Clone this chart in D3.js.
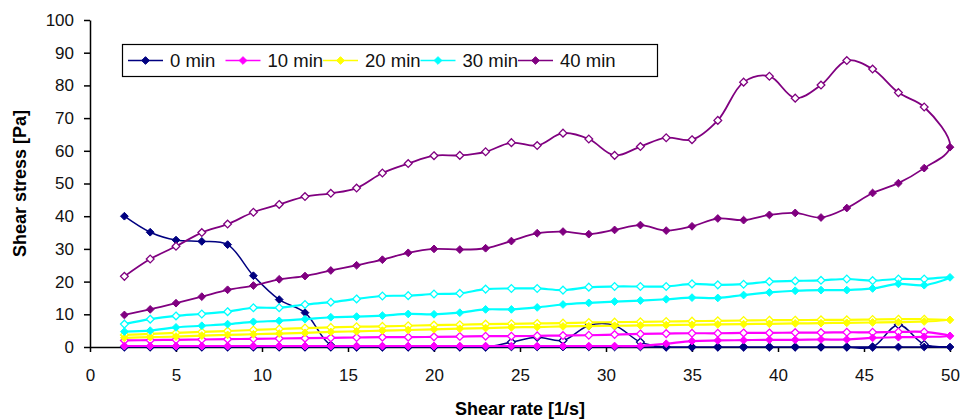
<!DOCTYPE html>
<html>
<head>
<meta charset="utf-8">
<script src="https://cdn.jsdelivr.net/npm/d3@7"></script>
<style>
  body { margin: 0; background: white; }
  text { font-family: "Liberation Sans", Arial, sans-serif; }
</style>
</head>
<body>
<div id="chart"></div>
<script>
// Data: shear rate steps and stress for each rest time (up = filled, down = open)
const shearRate = [2, 3.5, 5, 6.5, 8, 9.5, 11, 12.5, 14, 15.5, 17, 18.5, 20, 21.5, 23, 24.5,
    26, 27.5, 29, 30.5, 32, 33.5, 35, 36.5, 38, 39.5, 41, 42.5, 44, 45.5, 47, 48.5, 50];

const times = ['0 min', '10 min', '20 min', '30 min', '40 min'];
const colors = ['#000080', '#ff00ff', '#ffff00', '#00ffff', '#800080'];

const up0 = [40, 35.1, 32.7, 32.3, 31.3, 21.8, 14.5, 10.5, 0.6, 0, 0, 0, 0, 0, 0, 0,
    0, 0, 0, 0, 0, 0, 0, 0, 0, 0, 0, 0, 0, 0, 0, 0, 0];
const down0 = [0, 0, 0, 0, 0, 0, 0, 0, 0, 0, 0, 0, 0, 0, 0, 1.5,
    3.0, 2.0, 6.6, 6.6, 1.5, 0, 0, 0, 0, 0, 0, 0, 0, 0, 6.8, 0.8, 0];

const up10 = [0.3, 0.3, 0.3, 0.3, 0.3, 0.3, 0.3, 0.3, 0.3, 0.3, 0.3, 0.3, 0.3, 0.3, 0.3, 0.3,
    0.3, 0.3, 0.3, 0.3, 0.3, 1.0, 1.8, 2.0, 2.1, 2.2, 2.2, 2.3, 2.3, 2.8, 3.0, 3.1, 3.4];
const down10 = [2.0, 2.1, 2.2, 2.3, 2.4, 2.5, 2.6, 2.7, 2.8, 2.9, 3.0, 3.0, 3.1, 3.2, 3.3, 3.3,
    3.4, 3.5, 3.6, 3.8, 4.0, 4.1, 4.2, 4.2, 4.3, 4.3, 4.4, 4.4, 4.5, 4.5, 4.6, 4.6, 3.4];

const up20 = [2.8, 3.0, 3.2, 3.5, 3.7, 3.9, 4.1, 4.3, 4.6, 4.8, 5.0, 5.2, 5.4, 5.6, 5.8, 6.0,
    6.1, 6.3, 6.4, 6.5, 6.6, 6.7, 6.8, 6.9, 7.0, 7.1, 7.2, 7.3, 7.4, 7.5, 7.6, 7.8, 8.3];
const down20 = [3.7, 4.0, 4.3, 4.6, 4.9, 5.2, 5.5, 5.8, 6.0, 6.2, 6.3, 6.5, 6.7, 6.8, 7.0, 7.1,
    7.2, 7.3, 7.5, 7.6, 7.7, 7.8, 7.9, 8.0, 8.1, 8.2, 8.2, 8.3, 8.3, 8.4, 8.5, 8.5, 8.3];

const up30 = [4.7, 5.0, 6.0, 6.5, 7.0, 7.7, 8.0, 8.5, 9.1, 9.3, 9.6, 10.1, 10.0, 10.5, 11.5, 11.5,
    12.1, 13.0, 13.5, 13.9, 14.2, 14.6, 15.1, 15.0, 15.9, 16.7, 17.2, 17.4, 17.4, 17.9, 19.3, 18.9, 21.3];
const down30 = [7.0, 8.5, 9.5, 10.1, 10.8, 12.0, 12.0, 13.0, 13.7, 14.7, 15.6, 15.7, 16.2, 16.4, 17.7, 17.9,
    17.9, 17.4, 18.3, 18.5, 18.5, 18.5, 19.3, 19.0, 19.2, 20.0, 20.2, 20.4, 20.8, 20.3, 20.8, 20.8, 21.3];

const up40 = [9.8, 11.5, 13.4, 15.4, 17.5, 18.8, 20.7, 21.7, 23.4, 25.0, 26.7, 28.8, 30.0, 29.8, 30.2, 32.4,
    34.8, 35.3, 34.5, 35.8, 37.3, 35.6, 36.9, 39.3, 38.8, 40.4, 41.0, 39.6, 42.5, 47.1, 50.1, 54.7, 61.1];
const down40 = [21.6, 26.9, 30.8, 35.0, 37.6, 41.2, 43.6, 46.0, 47.0, 48.6, 53.2, 56.1, 58.5, 58.6, 59.7, 62.5,
    61.6, 65.4, 63.6, 58.6, 61.3, 64.0, 63.4, 69.3, 81.0, 82.8, 76.1, 80.1, 87.6, 85.0, 77.8, 73.4, 61.1];

const upCurves = [up0, up10, up20, up30, up40];
const downCurves = [down0, down10, down20, down30, down40];
const lineWidths = [1.5, 2.2, 2.2, 2.2, 1.8];

// Dimensions
const width = 962, height = 419;
const margin = { top: 20, right: 12, bottom: 72, left: 90 };

const svg = d3.select('#chart')
    .append('svg')
    .attr('width', width)
    .attr('height', height)
    .style('background', 'white');

// Scales
const xScale = d3.scaleLinear()
    .domain([0, 50])
    .range([margin.left, width - margin.right]);

const yScale = d3.scaleLinear()
    .domain([0, 100])
    .range([height - margin.bottom, margin.top]);

// Axes
const xaxis = svg.append('g')
    .attr('transform', `translate(0,${height - margin.bottom})`)
    .call(d3.axisBottom(xScale).tickValues(d3.range(0, 51, 5)).tickSize(5).tickPadding(17).tickSizeOuter(0));

const yaxis = svg.append('g')
    .attr('transform', `translate(${margin.left},0)`)
    .call(d3.axisLeft(yScale).tickValues(d3.range(0, 101, 10)).tickSize(6).tickPadding(10).tickSizeOuter(0));

[xaxis, yaxis].forEach(ax => {
    ax.select('.domain').attr('stroke', 'black').attr('stroke-width', 1.5);
    ax.selectAll('.tick line').attr('stroke', 'black').attr('stroke-width', 1.5);
    ax.selectAll('.tick text')
      .style('font-family', '"Liberation Sans", Arial, sans-serif')
      .style('font-size', '17px')
      .attr('fill', '#111');
});

// Axis titles
svg.append('text')
    .text('Shear rate [1/s]')
    .attr('x', xScale(25))
    .attr('y', 415)
    .attr('text-anchor', 'middle')
    .style('font-size', '18px')
    .style('font-weight', 'bold');

svg.append('text')
    .text('Shear stress [Pa]')
    .attr('transform', 'rotate(-90)')
    .attr('x', -yScale(50))
    .attr('y', 26)
    .attr('text-anchor', 'middle')
    .style('font-size', '18px')
    .style('font-weight', 'bold');

// Diamond marker (square turned 45 degrees)
const diamond = {
    draw(context, size) {
        const r = Math.sqrt(size / 2);
        context.moveTo(0, -r);
        context.lineTo(r, 0);
        context.lineTo(0, r);
        context.lineTo(-r, 0);
        context.closePath();
    }
};
const symbol = d3.symbol().type(diamond).size(30);

const line = d3.line()
    .x(d => xScale(d.x))
    .y(d => yScale(d.y))
    .curve(d3.curveCatmullRom.alpha(0.5));

// Draw each series: up the shear rate, then back down
times.forEach((t, i) => {
    const up = shearRate.map((x, j) => ({ x: x, y: upCurves[i][j] }));
    const down = shearRate.map((x, j) => ({ x: x, y: downCurves[i][j] })).slice(0, -1).reverse();

    svg.append('path')
        .datum(up.concat(down))
        .attr('d', line)
        .attr('fill', 'none')
        .attr('stroke', colors[i])
        .attr('stroke-width', lineWidths[i]);

    svg.selectAll(null)
        .data(down)
        .join('path')
        .attr('d', symbol)
        .attr('transform', d => `translate(${xScale(d.x)},${yScale(d.y)})`)
        .attr('fill', 'white')
        .attr('stroke', colors[i])
        .attr('stroke-width', 1.3);

    svg.selectAll(null)
        .data(up)
        .join('path')
        .attr('d', symbol)
        .attr('transform', d => `translate(${xScale(d.x)},${yScale(d.y)})`)
        .attr('fill', colors[i])
        .attr('stroke', colors[i])
        .attr('stroke-width', 1);
});

// Legend
const legend = svg.append('g');
legend.append('rect')
    .attr('x', 122.5)
    .attr('y', 44.5)
    .attr('width', 535)
    .attr('height', 32)
    .attr('fill', 'white')
    .attr('stroke', 'black')
    .attr('stroke-width', 1.2);

times.forEach((t, i) => {
    const lx = 128 + i * 97.5;
    legend.append('line')
        .attr('x1', lx)
        .attr('x2', lx + 35)
        .attr('y1', 60.5)
        .attr('y2', 60.5)
        .attr('stroke', colors[i])
        .attr('stroke-width', 1.5);
    legend.append('path')
        .attr('d', symbol)
        .attr('transform', `translate(${lx + 17.5},60.5)`)
        .attr('fill', colors[i])
        .attr('stroke', colors[i]);
    legend.append('text')
        .text(t)
        .attr('x', lx + 42)
        .attr('y', 67)
        .style('font-size', '18.5px')
        .attr('fill', '#111');
});
</script>
</body>
</html>
